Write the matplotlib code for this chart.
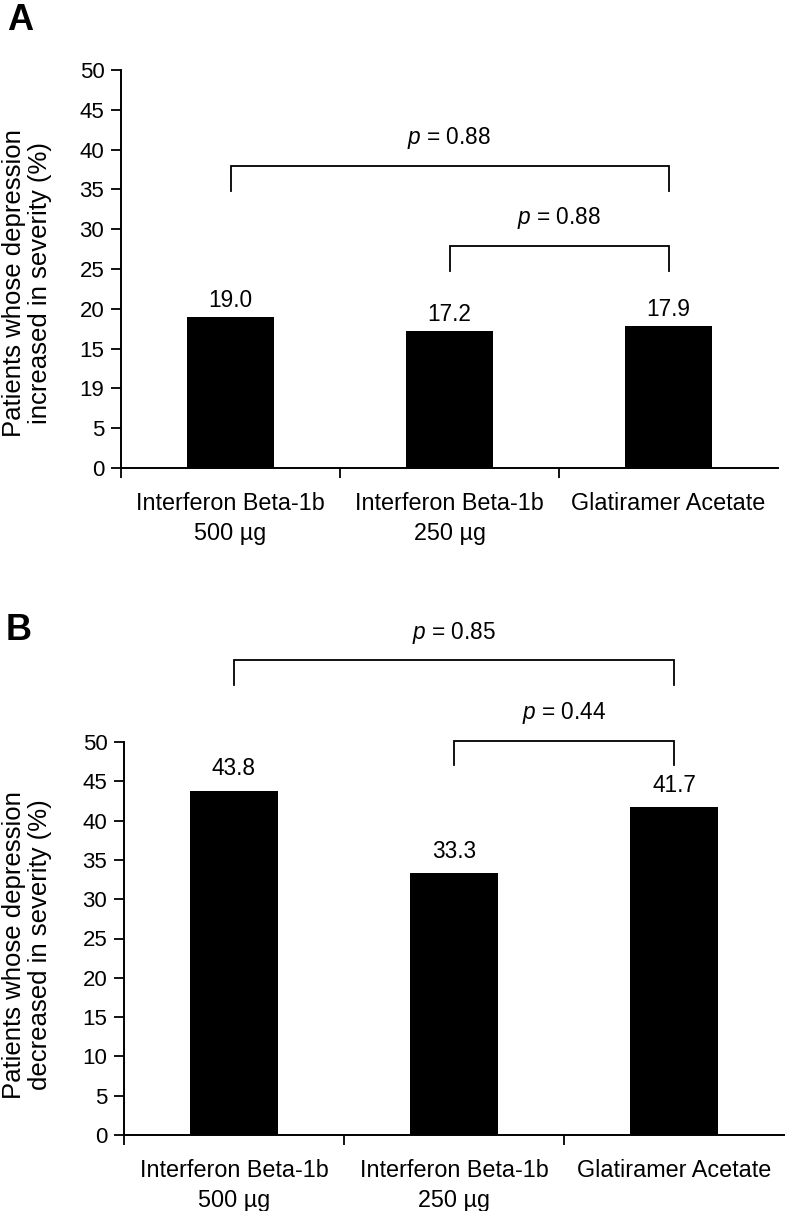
import matplotlib
matplotlib.use("Agg")
import matplotlib.pyplot as plt

plt.rcParams['font.family'] = ['Liberation Sans', 'DejaVu Sans']
plt.rcParams['mathtext.fontset'] = 'custom'
plt.rcParams['mathtext.it'] = 'Liberation Sans:italic'
plt.rcParams['mathtext.rm'] = 'Liberation Sans'

# ---------------- data ----------------
categories = ["Interferon Beta-1b\n500 µg", "Interferon Beta-1b\n250 µg", "Glatiramer Acetate"]
values_a = [19.0, 17.2, 17.9]
values_b = [43.8, 33.3, 41.7]
labels_a = ["19.0", "17.2", "17.9"]
labels_b = ["43.8", "33.3", "41.7"]
yticks = [0, 5, 10, 15, 20, 25, 30, 35, 40, 45, 50]
yticklabels_a = ["0", "5", "19", "15", "20", "25", "30", "35", "40", "45", "50"]
yticklabels_b = ["0", "5", "10", "15", "20", "25", "30", "35", "40", "45", "50"]
ylabel_a = "Patients whose depression\nincreased in severity (%)"
ylabel_b = "Patients whose depression\ndecreased in severity (%)"
pairs = [(0, 2), (1, 2)]
pvals_a = ["0.88", "0.88"]
pvals_b = ["0.85", "0.44"]

# ---------------- layout ----------------
W, H = 786, 1211
fig = plt.figure(figsize=(W / 100, H / 100), dpi=100)

def px_axes(left, right, top, bottom):
    return fig.add_axes([left / W, 1 - bottom / H, (right - left) / W, (bottom - top) / H])

ax_a = px_axes(121, 778, 70, 468)
ax_b = px_axes(124, 784, 742, 1135)

TICK_FS = 16
LAB_FS = 16.8
VAL_FS = 16.3
YLAB_FS = 18.5

def draw_panel(ax, values, vlabels, yticklabels, pvals, bracket_levels, val_offset):
    x = list(range(len(categories)))
    ax.bar(x, values, width=0.4, color="black", edgecolor="black", linewidth=0)
    ax.set_xlim(-0.5, 2.5)
    ax.set_ylim(0, 50)
    for s in ["top", "right"]:
        ax.spines[s].set_visible(False)
    for s in ["left", "bottom"]:
        ax.spines[s].set_linewidth(1.4)
    ax.set_yticks(yticks)
    ax.set_yticklabels(yticklabels, fontsize=TICK_FS)
    ax.tick_params(axis="y", direction="out", length=7, width=1.3, pad=5)
    ax.set_xticks(x)
    ax.set_xticklabels(categories, fontsize=LAB_FS, linespacing=1.4)
    ax.tick_params(axis="x", which="major", length=0, pad=17)
    ax.set_xticks([-0.5, 0.5, 1.5], minor=True)
    ax.tick_params(axis="x", which="minor", direction="out", length=7.5, width=1.3)
    for xi, v, lab in zip(x, values, vlabels):
        ax.annotate(lab, (xi, v), xytext=(0, val_offset), textcoords="offset points",
                    ha="center", va="baseline", fontsize=VAL_FS)
    for (i, j), p, (top, bot, ty) in zip(pairs, pvals, bracket_levels):
        ax.plot([i, i, j, j], [bot, top, top, bot], color="black", lw=1.3,
                clip_on=False, solid_joinstyle="miter")
        ax.text((i + j) / 2, ty, "$p$ = " + p, ha="center", va="center",
                fontsize=VAL_FS, clip_on=False)

draw_panel(ax_a, values_a, labels_a, yticklabels_a, pvals_a,
           [(37.9, 34.8, 41.5), (27.9, 24.7, 31.4)], 7)
draw_panel(ax_b, values_b, labels_b, yticklabels_b, pvals_b,
           [(60.4, 57.3, 63.9), (50.1, 47.1, 53.7)], 11)

fig.text(27 / W, 1 - 283 / H, ylabel_a, rotation=90, ha="center", va="center",
         fontsize=YLAB_FS, linespacing=1.12)
fig.text(27 / W, 1 - 945 / H, ylabel_b, rotation=90, ha="center", va="center",
         fontsize=YLAB_FS, linespacing=1.12)

fig.text(20 / W, 1 - 21 / H, "A", fontsize=26, fontweight="bold", ha="center", va="center")
fig.text(19 / W, 1 - 630 / H, "B", fontsize=26, fontweight="bold", ha="center", va="center")

fig.savefig("out.png", dpi=100)
